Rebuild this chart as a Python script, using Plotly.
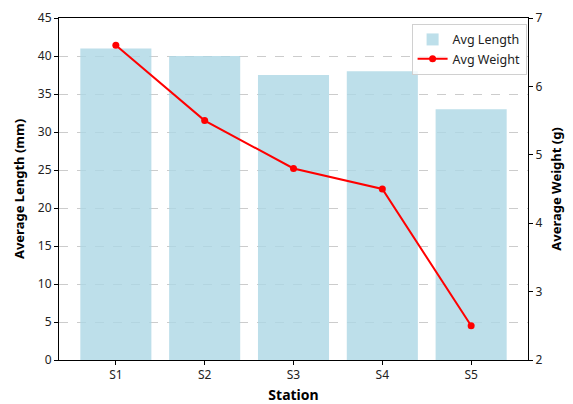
import plotly.graph_objects as go

stations = ["S1", "S2", "S3", "S4", "S5"]
avg_length = [41, 40, 37.5, 38, 33]
avg_weight = [6.6, 5.5, 4.8, 4.5, 2.5]
length_ticks = [0, 5, 10, 15, 20, 25, 30, 35, 40, 45]
weight_ticks = [2, 3, 4, 5, 6, 7]

FONT = "Noto Sans"

fig = go.Figure()
fig.add_trace(go.Bar(
    x=list(range(len(stations))), y=avg_length, name="Avg Length",
    marker=dict(color="#add8e6", line=dict(width=0)), opacity=0.8, width=0.8,
    yaxis="y",
))
fig.add_trace(go.Scatter(
    x=list(range(len(stations))), y=avg_weight, name="Avg Weight",
    mode="lines+markers", line=dict(color="red", width=2),
    marker=dict(color="red", size=7), yaxis="y2",
))

TICKFONT = dict(size=12, family=FONT, color="#222")

fig.update_layout(
    width=573, height=404,
    margin=dict(l=59, r=45, t=18, b=44, autoexpand=False),
    paper_bgcolor="white", plot_bgcolor="white",
    font=dict(family=FONT, size=12, color="#222"),
    showlegend=True,
    legend=dict(x=0.997, y=0.983, xanchor="right", yanchor="top",
                bgcolor="rgba(255,255,255,0.8)", bordercolor="#d0d0d0", borderwidth=1,
                font=dict(size=12.5, family=FONT), tracegroupgap=0,
                itemwidth=30),
    xaxis=dict(
        range=[-0.64, 4.64], tickmode="array",
        tickvals=list(range(len(stations))), ticktext=stations, tickfont=TICKFONT,
        showline=True, linecolor="black", linewidth=1, mirror=True,
        ticks="outside", ticklen=4, tickcolor="black", showgrid=False,
        title=dict(text="<b>Station</b>", font=dict(size=14, family=FONT, color="black"), standoff=12),
        zeroline=False, automargin=False,
    ),
    yaxis=dict(
        range=[0, 45], tickmode="array", tickvals=length_ticks, tickfont=TICKFONT,
        showline=True, linecolor="black", linewidth=1,
        ticks="outside", ticklen=4, tickcolor="black",
        showgrid=True, gridcolor="#cccccc", griddash="dash", gridwidth=0.7,
        zeroline=False, automargin=False,
        title=dict(text="<b>Average Length (mm)</b>", font=dict(size=13, family=FONT, color="black"), standoff=10),
    ),
    yaxis2=dict(
        range=[2, 7], tickmode="array", tickvals=weight_ticks, tickfont=TICKFONT,
        overlaying="y", side="right",
        showline=True, linecolor="black", linewidth=1,
        ticks="outside", ticklen=4, tickcolor="black",
        showgrid=False, zeroline=False, automargin=False,
        title=dict(text="<b>Average Weight (g)</b>", font=dict(size=13, family=FONT, color="black"), standoff=10),
    ),
    bargap=0.2,
)

fig.add_annotation(
    text="<b>Average Length and Weight per Station</b>",
    xref="paper", yref="paper", x=0.5, y=1.0, yanchor="bottom",
    yshift=16, showarrow=False, font=dict(size=14, family=FONT, color="black"),
)

fig.write_html(
    "out.html",
    config={"displayModeBar": False},
    post_script="document.body.style.margin='0';document.body.style.overflow='hidden';",
)
